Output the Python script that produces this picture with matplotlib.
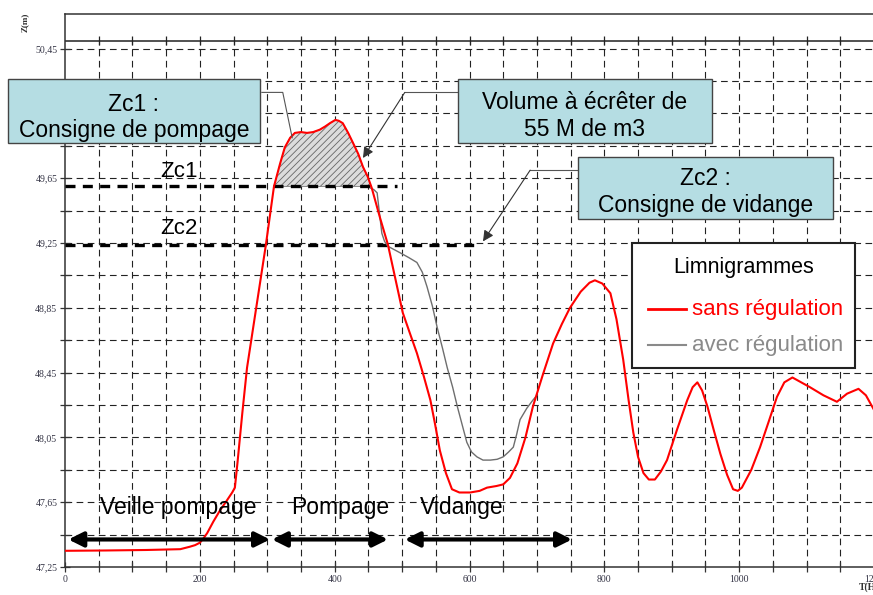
import numpy as np
import matplotlib.pyplot as plt
from matplotlib.patches import Rectangle
from matplotlib.ticker import MultipleLocator, FixedLocator, FuncFormatter

plt.rcParams['hatch.linewidth'] = 0.6

# limnigramme sans régulation (T en heures, Z en m)
t_sans = [0, 60, 120, 171, 185, 193, 200, 206, 211, 220, 230, 240, 248, 252, 256,
          263, 270, 284, 298, 304, 310, 319, 326, 334, 341, 350, 359, 368, 378,
          386, 393, 401, 406, 412, 420, 427, 435, 442, 449, 455, 467, 479, 490,
          501, 511, 522, 532, 542, 549, 556, 565, 574, 585, 601, 615, 626, 640,
          650, 660, 671, 683, 694, 709, 724, 737, 749, 765, 778, 786, 797, 809,
          818, 828, 836, 843, 850, 858, 866, 875, 884, 893, 908, 923, 931, 938,
          945, 953, 962, 972, 982, 991, 998, 1004, 1018, 1031, 1044, 1056, 1067,
          1079, 1092, 1105, 1125, 1145, 1160, 1177, 1188, 1200]
z_sans = [47.35, 47.352, 47.355, 47.36, 47.375, 47.385, 47.40, 47.43, 47.46, 47.53,
          47.60, 47.66, 47.71, 47.74, 47.90, 48.20, 48.48, 48.86, 49.24, 49.42,
          49.60, 49.74, 49.84, 49.90, 49.93, 49.935, 49.93, 49.935, 49.95, 49.97,
          49.99, 50.01, 50.005, 49.99, 49.93, 49.87, 49.80, 49.72, 49.66, 49.59,
          49.41, 49.24, 49.03, 48.82, 48.70, 48.57, 48.43, 48.28, 48.13, 47.97,
          47.83, 47.73, 47.71, 47.71, 47.72, 47.74, 47.75, 47.76, 47.80, 47.89,
          48.05, 48.24, 48.44, 48.63, 48.75, 48.85, 48.95, 49.005, 49.02, 49.00,
          48.94, 48.78, 48.53, 48.28, 48.08, 47.93, 47.83, 47.79, 47.79, 47.84,
          47.91, 48.10, 48.28, 48.36, 48.39, 48.34, 48.24, 48.10, 47.95, 47.82,
          47.73, 47.72, 47.74, 47.85, 47.99, 48.15, 48.30, 48.39, 48.42, 48.39,
          48.36, 48.31, 48.27, 48.32, 48.35, 48.31, 48.22]

# limnigramme avec régulation (partie qui s'écarte de la courbe rouge)
t_avec = [453, 458, 463, 466, 470, 474, 479, 488, 497, 510, 522, 530, 537, 545,
          552, 560, 567, 575, 582, 589, 596, 603, 611, 620, 631, 641, 650, 658,
          665, 670, 675, 685, 694, 700]
z_avec = [49.59, 49.58, 49.56, 49.45, 49.31, 49.26, 49.23, 49.21, 49.19, 49.16,
          49.13, 49.07, 48.98, 48.86, 48.73, 48.60, 48.48, 48.36, 48.24, 48.13,
          48.02, 47.96, 47.93, 47.91, 47.91, 47.915, 47.93, 47.96, 47.99, 48.07,
          48.16, 48.23, 48.28, 48.31]

zc1 = 49.60
zc2 = 49.24
zc1_fin = 493
zc2_fin = 616

# phases : début, fin, libellé
phase_debut = [5, 307, 504]
phase_fin = [304, 479, 752]
phase_nom = ['Veille pompage', 'Pompage', 'Vidange']
phase_lab_t = [168, 408, 589]

font_txt = 'Liberation Sans'
font_ax = 'Liberation Serif'
bleu = '#b5dde3'

fig = plt.figure(figsize=(8.73, 5.95), dpi=100)
ax = fig.add_axes([65 / 873, 28 / 595, 809 / 873, 553 / 595])
ax.set_xlim(0, 1200)
ax.set_ylim(47.25, 50.664)

# grille pointillée
dash = (0, (6, 4))
for x in np.arange(50, 1200, 50):
    ax.vlines(x, 47.25, 50.50, colors='#222222', linewidth=0.8, linestyles=[dash], zorder=1)
for y in np.arange(47.45, 50.46, 0.2):
    ax.hlines(y, 0, 1200, colors='#222222', linewidth=0.8, linestyles=[dash], zorder=1)
ax.axhline(50.50, color='#222222', lw=1.1, zorder=2)
ax.vlines(np.arange(50, 1200, 50), 50.47, 50.53, colors='#222222', lw=0.9, zorder=2)

# axes
for s in ax.spines.values():
    s.set_color('#333333')
    s.set_linewidth(1.1)
ax.xaxis.set_major_locator(MultipleLocator(200))
ax.xaxis.set_minor_locator(MultipleLocator(50))
ax.yaxis.set_major_locator(FixedLocator(np.arange(47.25, 50.5, 0.4)))
ax.yaxis.set_minor_locator(FixedLocator(np.arange(47.45, 50.5, 0.4)))

def fmt_z(v, p):
    # l'étiquette 50,05 est masquée par le cadre Zc1
    if abs(v - 50.05) < 0.01:
        return ''
    return f'{v:.2f}'.replace('.', ',')

ax.yaxis.set_major_formatter(FuncFormatter(fmt_z))
ax.tick_params(which='both', direction='inout', length=7, width=0.9, color='#333333',
               labelsize=7, labelcolor='#333344', pad=2)
for lab in ax.get_xticklabels() + ax.get_yticklabels():
    lab.set_family(font_ax)

# surface écrêtée
t_arr = np.array(t_sans)
z_arr = np.array(z_sans)
ax.fill_between(t_arr, z_arr, zc1, where=z_arr >= zc1, interpolate=True,
                facecolor='#dcdcdc', edgecolor='#666666', hatch='/////', linewidth=0.5, zorder=3)

# consignes
ax.plot([0, zc1_fin], [zc1, zc1], color='black', lw=2.4, linestyle=(0, (3, 2.2)), zorder=4)
ax.plot([0, zc2_fin], [zc2, zc2], color='black', lw=2.4, linestyle=(0, (3, 2.2)), zorder=4)
ax.text(169, 49.69, 'Zc1', family=font_txt, fontsize=16, ha='center', va='center', zorder=6)
ax.text(169, 49.34, 'Zc2', family=font_txt, fontsize=16, ha='center', va='center', zorder=6)

# courbes
ax.plot(t_avec, z_avec, color='#6e6e6e', lw=1.0, zorder=4)
ax.plot(t_sans, z_sans, color='#ff0000', lw=1.5, zorder=5)

# phases
for t0, t1, nom, tl in zip(phase_debut, phase_fin, phase_nom, phase_lab_t):
    ax.annotate('', xy=(t1, 47.42), xytext=(t0, 47.42),
                arrowprops=dict(arrowstyle='<|-|>', lw=3, color='black',
                                mutation_scale=22, shrinkA=0, shrinkB=0), zorder=6)
    ax.text(tl, 47.62, nom, family=font_txt, fontsize=16.5,
            ha='center', va='center', zorder=6)

# cadres de texte
def cadre(x0, x1, y0, y1, lignes, xc, yc):
    ax.add_patch(Rectangle((x0, y0), x1 - x0, y1 - y0, facecolor=bleu, edgecolor='#444444',
                           lw=1.0, clip_on=False, zorder=7))
    ax.text(xc, yc, lignes, family=font_txt, fontsize=16.5, ha='center', va='center',
            linespacing=1.22, zorder=8, clip_on=False)

cadre(-85, 289, 49.87, 50.26, 'Zc1 :\nConsigne de pompage', 102, 50.025)
cadre(583, 960, 49.87, 50.26, 'Volume à écrêter de\n55 M de m3', 771, 50.035)
cadre(761, 1139, 49.40, 49.78, 'Zc2 :\nConsigne de vidange', 950, 49.565)

# lignes de rappel
ax.plot([292, 323, 337], [50.18, 50.18, 49.90], color='#555555', lw=0.8, zorder=6)
ax.plot([583, 504], [50.18, 50.18], color='#555555', lw=0.8, zorder=6)
ax.annotate('', xy=(442, 49.775), xytext=(504, 50.18),
            arrowprops=dict(arrowstyle='-|>', lw=0.8, color='#333333', mutation_scale=16,
                            shrinkA=0, shrinkB=0), zorder=6)
ax.plot([761, 690], [49.70, 49.70], color='#555555', lw=0.8, zorder=6)
ax.annotate('', xy=(620, 49.26), xytext=(690, 49.70),
            arrowprops=dict(arrowstyle='-|>', lw=0.8, color='#333333', mutation_scale=16,
                            shrinkA=0, shrinkB=0), zorder=6)

# légende
ax.add_patch(Rectangle((841, 48.48), 331, 0.77, facecolor='white', edgecolor='#222222',
                       lw=1.5, zorder=7))
ax.text(1006, 49.10, 'Limnigrammes', family=font_txt, fontsize=15.5, ha='center', va='center', zorder=8)
ax.plot([865, 921], [48.84, 48.84], color='#ff0000', lw=2, zorder=8)
ax.text(930, 48.84, 'sans régulation', family=font_txt, fontsize=16, color='#ff0000',
        ha='left', va='center', zorder=8)
ax.plot([865, 921], [48.62, 48.62], color='#8a8a8a', lw=1.5, zorder=8)
ax.text(930, 48.62, 'avec régulation', family=font_txt, fontsize=16, color='#8a8a8a',
        ha='left', va='center', zorder=8)

# titres d'axes
fig.text(25 / 873, 1 - 22 / 595, 'Z(m)', rotation=90, family=font_ax, fontsize=6.5,
         fontweight='bold', ha='center', va='center', color='#333333')
fig.text(859 / 873, 1 - 587 / 595, 'T(H)', family=font_ax, fontsize=7, fontweight='bold',
         ha='left', va='center', color='#333333')

fig.savefig('out.png', dpi=100)
